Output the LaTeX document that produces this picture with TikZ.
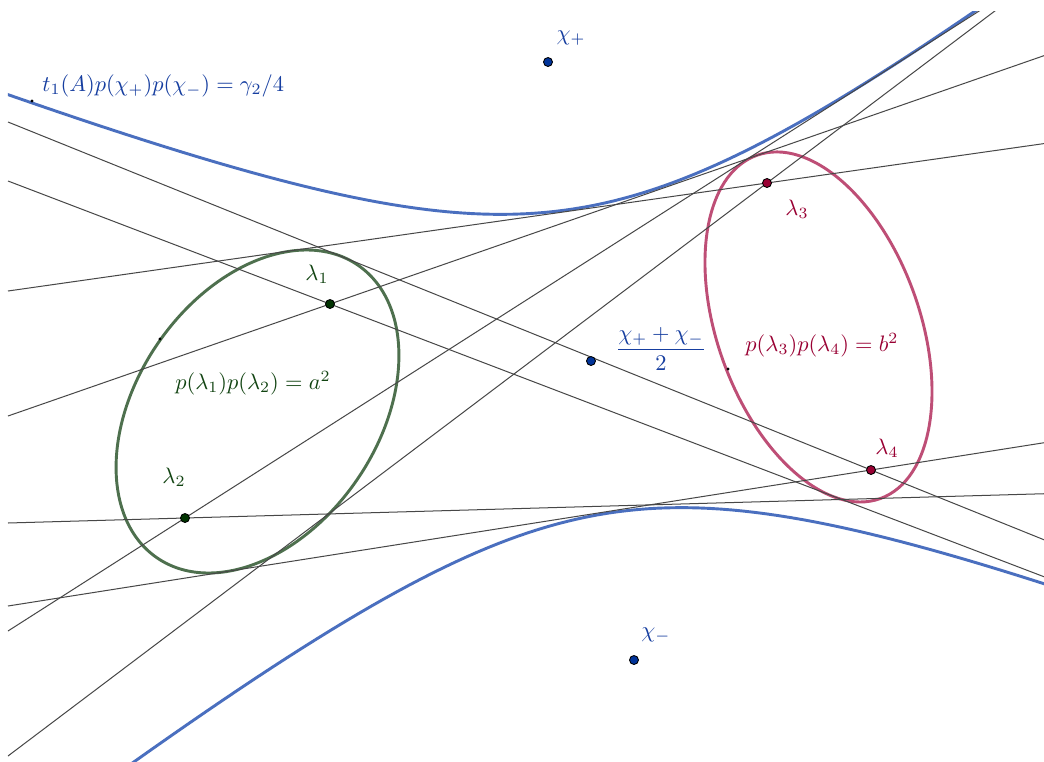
\documentclass[tikz,border=0pt]{standalone}
\usepackage{amsmath}
\usetikzlibrary{calc}

\definecolor{hypblue}{RGB}{74,111,191}
\definecolor{txtblue}{RGB}{22,62,160}
\definecolor{ptblue}{RGB}{0,51,153}
\definecolor{ellgreen}{RGB}{78,112,78}
\definecolor{txtgreen}{RGB}{18,68,18}
\definecolor{ptgreen}{RGB}{0,51,0}
\definecolor{ellred}{RGB}{190,78,118}
\definecolor{txtred}{RGB}{153,0,51}

\begin{document}
\begin{tikzpicture}[x=0.0157cm, y=-0.0157cm,
    curve/.style={line width=1.3pt},
    thinline/.style={draw=black!72, line width=0.45pt},
    dot/.style={circle, draw=black, line width=0.4pt, inner sep=0pt, minimum size=4pt},
    tinydot/.style={circle, fill=black, inner sep=0pt, minimum size=1.4pt}
  ]
  \useasboundingbox (0,0) rectangle (1044,762);
  \fill[white] (0,0) rectangle (1044,762);
  \clip (8,11) rectangle (1044,762);

  % points of the construction
  \coordinate (cp) at (548,62);
  \coordinate (cm) at (634,660);
  \coordinate (cmid) at (591,361);
  \coordinate (l1) at (330,304);
  \coordinate (l2) at (185,518);
  \coordinate (l3) at (767,183);
  \coordinate (l4) at (871,470);
  \coordinate (gc) at (257.5,411.5);
  \coordinate (rc) at (818.5,327);

  % hyperbola, both branches
  \begin{scope}[shift={(cmid)}, rotate=98.2]
    \draw[curve, hypblue] plot[domain=-1.75:1.6, samples=90, variable=\t]
      ({153*cosh(\t)}, {265*sinh(\t)});
    \draw[curve, hypblue] plot[domain=-1.75:1.6, samples=90, variable=\t]
      ({-153*cosh(\t)}, {265*sinh(\t)});
  \end{scope}

  % ellipses
  \draw[curve, ellgreen, rotate around={55.5:(gc)}] (gc) ellipse (177.5 and 120.7);
  \draw[curve, ellred, rotate around={-70.2:(rc)}] (rc) ellipse (182.4 and 101.2);

  % lines through the lambdas
  \coordinate (e1) at (8,122);
  \coordinate (e2) at (8,181);
  \coordinate (e3) at (8,291);
  \coordinate (e4) at (8,416);
  \coordinate (e5) at (8,523);
  \coordinate (e6) at (8,606);
  \coordinate (e7) at (8,631);
  \coordinate (e8) at (8,756);
  \foreach \a/\b in {e1/l4, e2/l1, e3/l3, e4/l1, e5/l2, e6/l4, e7/l2, e8/l3}
    \draw[thinline] (\a) -- ($(\a)!8!(\b)$);

  % dots
  \node[dot, fill=ptblue] (cpdot) at (cp) {};
  \node[dot, fill=ptblue] (cmdot) at (cm) {};
  \node[dot, fill=ptblue] (middot) at (cmid) {};
  \node[dot, fill=ptgreen] (l1dot) at (l1) {};
  \node[dot, fill=ptgreen] (l2dot) at (l2) {};
  \node[dot, fill=txtred] (l3dot) at (l3) {};
  \node[dot, fill=txtred] (l4dot) at (l4) {};
  \node[tinydot] (hypdot) at (32,101) {};
  \node[tinydot] (gdot) at (160,339) {};
  \node[tinydot] (rdot) at (728,369) {};

  % labels
  \node[text=txtblue, anchor=west, inner sep=0pt] (hyplab) at (42,86) {$t_1(A)p(\chi_+)p(\chi_-)=\gamma_2/4$};
  \node[text=txtblue] (cplab) at (571,38) {$\chi_+$};
  \node[text=txtblue] (cmlab) at (656,635) {$\chi_-$};
  \node[text=txtblue] (midlab) at (661,349) {$\dfrac{\chi_+ + \chi_-}{2}$};
  \node[text=txtred] (redlab) at (822,345) {$p(\lambda_3)p(\lambda_4)=b^2$};
  \node[text=txtgreen] (greenlab) at (253,383) {$p(\lambda_1)p(\lambda_2)=a^2$};
  \node[text=txtgreen] (l1lab) at (317,274) {$\lambda_1$};
  \node[text=txtgreen] (l2lab) at (174,477) {$\lambda_2$};
  \node[text=txtred] (l3lab) at (797,209) {$\lambda_3$};
  \node[text=txtred] (l4lab) at (887,448) {$\lambda_4$};
\end{tikzpicture}
\end{document}
